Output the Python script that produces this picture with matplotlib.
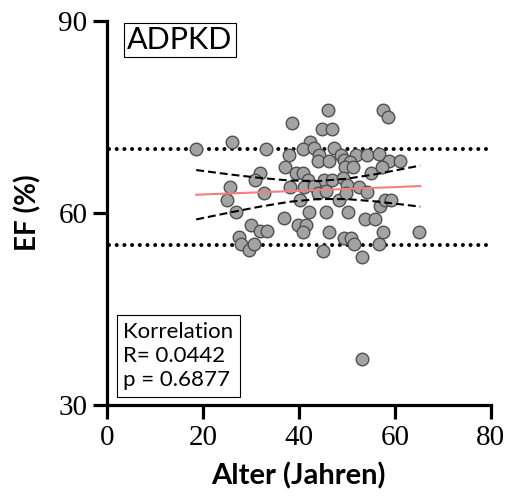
import matplotlib
matplotlib.use("Agg")
import matplotlib.pyplot as plt
import numpy as np

# ---- data ----
age = [18.6, 26.1, 33.2, 38.6, 46.0, 44.9, 47.0, 57.6, 58.6, 42.4, 40.8, 43.1, 47.3,
       37.9, 44.2, 48.75, 51.9, 54.1, 56.6, 43.9, 46.35, 49.5, 50.7, 49.7, 51.35, 37.2,
       39.4, 40.8, 55.1, 58.85, 61.1, 57.4, 31.9, 30.9, 42.0, 45.3, 46.9, 49.3, 50.0,
       52.5, 54.2, 25.7, 25.0, 32.8, 38.1, 41.1, 43.2, 40.25, 44.0, 45.7, 48.4, 49.9,
       57.0, 57.9, 59.2, 26.8, 42.2, 45.7, 50.3, 37.0, 53.75, 55.9, 30.0, 31.8, 33.4,
       39.8, 41.4, 40.9, 46.2, 57.5, 65.1, 27.5, 28.0, 29.5, 30.7, 45.1, 49.5, 50.8,
       51.5, 56.6, 53.1, 53.2]
ef = [70.05, 71.1, 70.05, 74.0, 76.05, 73.1, 73.1, 76.1, 75.0, 71.1, 70.05, 70.2, 70.1,
      69.0, 69.0, 69.1, 69.0, 69.0, 69.2, 68.1, 68.1, 68.2, 67.95, 67.1, 67.1, 67.2,
      66.3, 66.2, 66.2, 68.15, 68.15, 67.2, 66.2, 65.1, 65.1, 65.1, 65.1, 65.45, 64.4,
      64.1, 63.2, 64.1, 62.1, 63.1, 64.1, 64.1, 64.2, 62.1, 63.1, 63.5, 62.1, 63.1,
      61.1, 62.1, 62.1, 60.2, 60.2, 60.2, 60.1, 59.2, 59.1, 59.1, 58.1, 57.2, 57.2,
      58.2, 58.2, 57.1, 57.1, 57.1, 57.1, 56.2, 55.2, 54.2, 55.1, 54.1, 56.1, 56.1,
      55.1, 55.1, 53.1, 37.2]

fit_x = [18.6, 65.3]
fit_y = [62.85, 64.2]

band_x = [18.6, 26, 32, 38, 44, 50, 56, 65.3]
band_upper = [66.70, 65.98, 65.47, 65.07, 64.98, 65.35, 66.05, 67.4]
band_lower = [59.00, 60.14, 61.01, 61.75, 62.18, 62.17, 61.81, 61.0]

ref_lines = [70, 55]
x_ticks = [0, 20, 40, 60, 80]
y_ticks = [30, 60, 90]
group_label = "ADPKD"
stats_text = "Korrelation\nR= 0.0442\np = 0.6877"
x_label = "Alter (Jahren)"
y_label = "EF (%)"

# ---- figure ----
fig = plt.figure(figsize=(5.07, 5.03), dpi=100)
ax = fig.add_axes([0.211, 0.194, 0.757, 0.765])

for yv in ref_lines:
    ax.plot([0.5, 79.5], [yv, yv], color="black", lw=2.9,
            linestyle=(0, (0.01, 1.9)), dash_capstyle="round", zorder=2)

ax.scatter(age, ef, s=82, facecolor="#a3a3a3", edgecolor="#505050",
           linewidth=1.0, zorder=3)

ax.plot(fit_x, fit_y, color="#f08080", lw=1.5, zorder=4)
ax.plot(band_x, band_upper, color="black", lw=1.5,
        linestyle=(0, (3.8, 1.9)), zorder=4)
ax.plot(band_x, band_lower, color="black", lw=1.5,
        linestyle=(0, (3.8, 1.9)), zorder=4)

ax.set_xlim(0, 80)
ax.set_ylim(30, 90)
ax.set_xticks(x_ticks)
ax.set_yticks(y_ticks)

for s in ["top", "right"]:
    ax.spines[s].set_visible(False)
for s in ["left", "bottom"]:
    ax.spines[s].set_linewidth(2.3)

ax.tick_params(axis="both", width=2.3, length=10, direction="out",
               labelsize=21, pad=4)
for lab in ax.get_xticklabels() + ax.get_yticklabels():
    lab.set_family("Liberation Serif")

ax.set_xlabel(x_label, fontsize=21, fontweight="bold", family="Lato", labelpad=8)
ax.set_ylabel(y_label, fontsize=20, fontweight="bold", family="Lato", labelpad=12)

ax.text(4.2, 87.0, group_label, fontsize=22, family="Lato", ha="left", va="center",
        bbox=dict(boxstyle="square,pad=0.1", facecolor="white", edgecolor="black", lw=0.8))

ax.text(3.4, 32.4, stats_text, fontsize=16, family="Lato", ha="left", va="bottom",
        linespacing=1.25,
        bbox=dict(boxstyle="square,pad=0.3", facecolor="white", edgecolor="black", lw=0.8))

fig.savefig("out.png", dpi=100)
